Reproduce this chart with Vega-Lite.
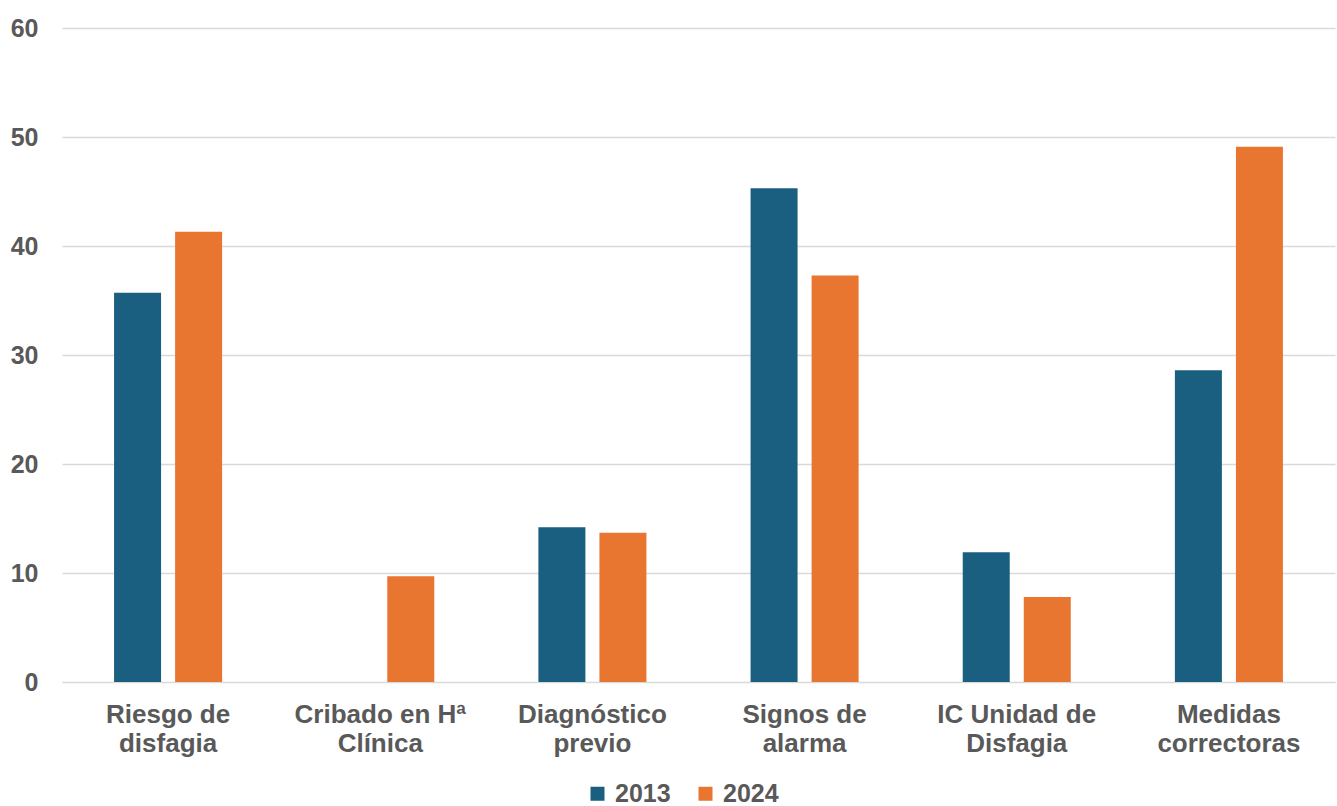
{
  "$schema": "https://vega.github.io/schema/vega-lite/v6.json",
  "width": 1273,
  "height": 654,
  "autosize": {"type": "none"},
  "padding": {"left": 62, "top": 28, "right": 2, "bottom": 124},
  "background": "white",
  "config": {
    "view": {"stroke": null},
    "font": "Liberation Sans"
  },
  "data": {
    "values": [
      {"cat": "Riesgo de|disfagia", "year": "2013", "value": 35.7},
      {"cat": "Riesgo de|disfagia", "year": "2024", "value": 41.3},
      {"cat": "Cribado en Hª|Clínica", "year": "2013", "value": 0},
      {"cat": "Cribado en Hª|Clínica", "year": "2024", "value": 9.7},
      {"cat": "Diagnóstico|previo", "year": "2013", "value": 14.2},
      {"cat": "Diagnóstico|previo", "year": "2024", "value": 13.7},
      {"cat": "Signos de|alarma", "year": "2013", "value": 45.3},
      {"cat": "Signos de|alarma", "year": "2024", "value": 37.3},
      {"cat": "IC Unidad de|Disfagia", "year": "2013", "value": 11.9},
      {"cat": "IC Unidad de|Disfagia", "year": "2024", "value": 7.8},
      {"cat": "Medidas|correctoras", "year": "2013", "value": 28.6},
      {"cat": "Medidas|correctoras", "year": "2024", "value": 49.1}
    ]
  },
  "mark": {"type": "bar"},
  "encoding": {
    "x": {
      "field": "cat",
      "type": "nominal",
      "sort": null,
      "scale": {"paddingInner": 0, "paddingOuter": 0},
      "axis": {
        "title": null,
        "labelAngle": 0,
        "labelExpr": "split(datum.label, '|')",
        "labelFont": "Liberation Sans",
        "labelFontWeight": "bold",
        "labelFontSize": 26,
        "labelColor": "#595959",
        "labelLineHeight": 29,
        "labelPadding": 19,
        "ticks": false,
        "domain": true,
        "domainColor": "#d9d9d9",
        "grid": false
      }
    },
    "xOffset": {
      "field": "year",
      "type": "nominal",
      "scale": {"paddingInner": 0.23, "paddingOuter": 0.853}
    },
    "y": {
      "field": "value",
      "type": "quantitative",
      "scale": {"domain": [0, 60], "nice": false},
      "axis": {
        "title": null,
        "values": [0, 10, 20, 30, 40, 50, 60],
        "labelFont": "Liberation Sans",
        "labelFontWeight": "bold",
        "labelFontSize": 25,
        "labelColor": "#595959",
        "labelPadding": 24,
        "ticks": false,
        "domain": false,
        "grid": true,
        "gridColor": "#d9d9d9",
        "gridWidth": 1.5
      }
    },
    "color": {
      "field": "year",
      "type": "nominal",
      "scale": {"domain": ["2013", "2024"], "range": ["#1a5e80", "#e87530"]},
      "legend": {
        "title": null,
        "orient": "none",
        "direction": "horizontal",
        "legendX": 523,
        "legendY": 753,
        "symbolType": "square",
        "symbolSize": 196,
        "symbolStrokeWidth": 0,
        "labelFont": "Liberation Sans",
        "labelFontWeight": "bold",
        "labelFontSize": 25,
        "labelColor": "#595959",
        "labelOffset": 5,
        "columnPadding": 22
      }
    }
  }
}
